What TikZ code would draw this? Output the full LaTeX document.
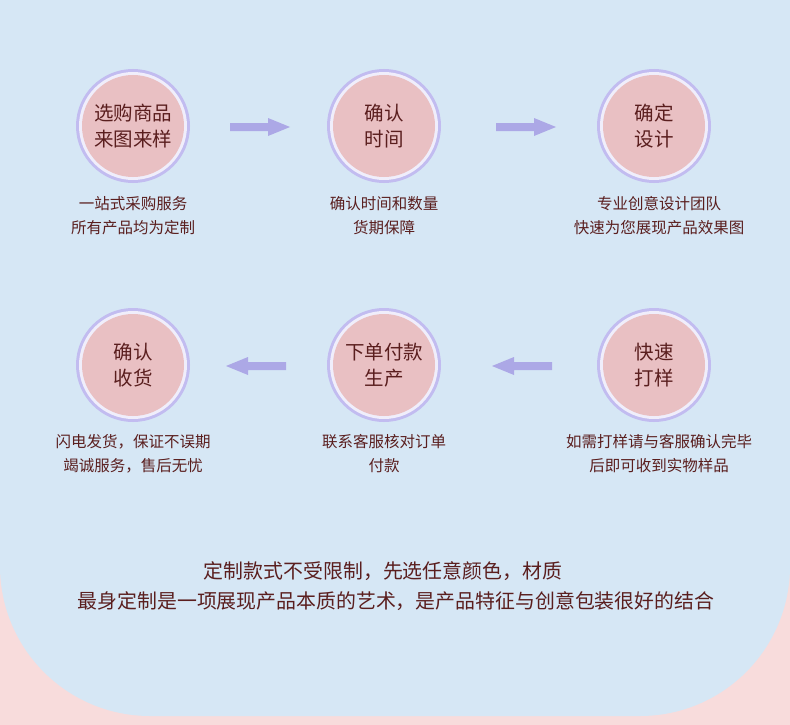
\documentclass[tikz,border=0pt]{standalone}
\usepackage{fontspec}
\setmainfont{Noto Sans CJK SC}
\begin{document}
\begin{tikzpicture}[x=1pt,y=-1pt,
  txt/.style={text=txtc,font=\fontsize{15.5}{24}\selectfont,align=center},
  ctxt/.style={text=txtc,font=\fontsize{19.5}{26}\selectfont,align=center},
  bt/.style={text=txtc,font=\fontsize{19.9}{24}\selectfont}]
\definecolor{bgpink}{HTML}{F8DCDC}
\definecolor{bgblue}{HTML}{D6E7F5}
\definecolor{pinkc}{HTML}{E9C0C3}
\definecolor{ringc}{HTML}{C2BCF0}
\definecolor{arrc}{HTML}{ACA8E6}
\definecolor{txtc}{HTML}{5A1E1E}
\useasboundingbox (0,0) rectangle (790,725);
\fill[bgpink] (0,0) rectangle (790,725);
\fill[bgblue,rounded corners=150pt] (0,-200) rectangle (790,716);
\fill[bgblue] (0,-10) rectangle (790,300);
\newcommand{\stp}[4]{%
  \fill[ringc] (#1,#2) circle (57);
  \fill[white!75!ringc] (#1,#2) circle (54);
  \node[circle,minimum size=102pt,inner sep=0,fill=pinkc,ctxt] (#3) at (#1,#2) {#4};}
\stp{133}{126}{s1}{选购商品\\来图来样}
\stp{384}{126}{s2}{确认\\时间}
\stp{654}{126}{s3}{确定\\设计}
\stp{133}{365}{s6}{确认\\收货}
\stp{384}{365}{s5}{下单付款\\生产}
\stp{654}{365}{s4}{快速\\打样}
\newcommand{\rarr}[2]{\fill[arrc] (#1,#2-4) -- ++(38,0) -- ++(0,-5) -- ++(22,9) -- ++(-22,9) -- ++(0,-5) -- ++(-38,0) -- cycle;}
\newcommand{\larr}[2]{\fill[arrc] (#1,#2-4) -- ++(-38,0) -- ++(0,-5) -- ++(-22,9) -- ++(22,9) -- ++(0,-5) -- ++(38,0) -- cycle;}
\rarr{230}{127}\rarr{496}{127}
\larr{286}{366}\larr{552}{366}
\node[txt] (c1) at (133,216) {一站式采购服务\\所有产品均为定制};
\node[txt] (c2) at (384,216) {确认时间和数量\\货期保障};
\node[txt] (c3) at (659,216) {专业创意设计团队\\快速为您展现产品效果图};
\node[txt] (c6) at (133,454) {闪电发货，保证不误期\\竭诚服务，售后无忧};
\node[txt] (c5) at (384,454) {联系客服核对订单\\付款};
\node[txt] (c4) at (659,454) {如需打样请与客服确认完毕\\后即可收到实物样品};
\node[bt] (b1) at (383,571) {定制款式不受限制，先选任意颜色，材质};
\node[bt] (b2) at (396,601) {最身定制是一项展现产品本质的艺术，是产品特征与创意包装很好的结合};
\end{tikzpicture}
\end{document}
